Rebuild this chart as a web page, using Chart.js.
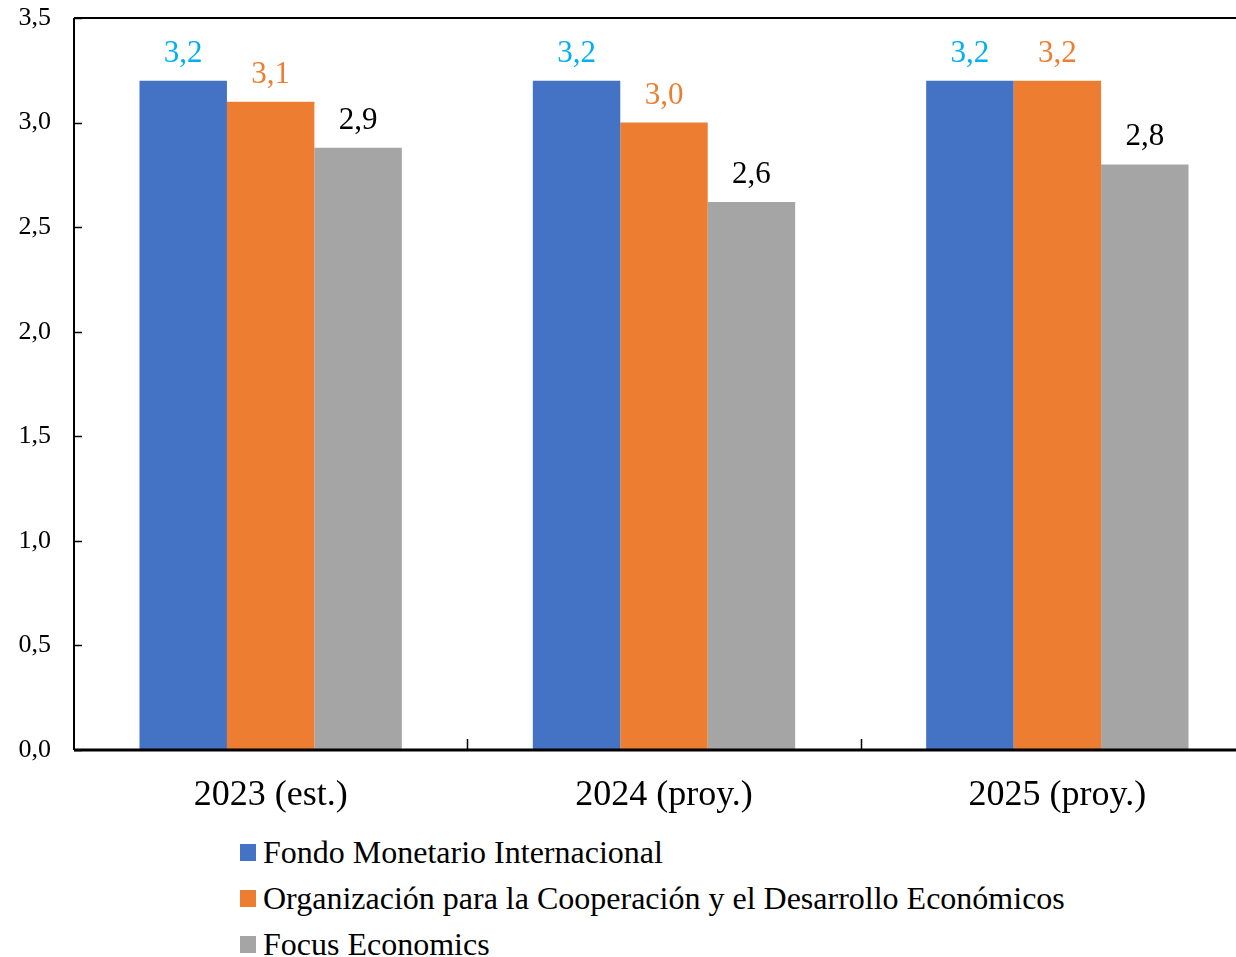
<!DOCTYPE html>
<html>
<head>
<meta charset="utf-8">
<script src="https://cdn.jsdelivr.net/npm/chart.js@4"></script>
<style>
  html, body { margin: 0; padding: 0; background: #fff; overflow: hidden; }
  #wrap { position: relative; width: 1236px; height: 957px; overflow: hidden; }
  #box { position: absolute; left: 0; top: 0; width: 1256px; height: 820px; }
  #legend { position: absolute; left: 240px; top: 829px; font-family: "Liberation Serif", "Times New Roman", serif; font-size: 32px; color: #000; }
  .item { height: 46px; line-height: 46px; display: flex; align-items: center; white-space: nowrap; }
  .swatch { width: 16px; height: 17px; margin-right: 7px; }
</style>
</head>
<body>
<div id="wrap">
  <div id="box"><canvas id="chart"></canvas></div>
  <div id="legend"></div>
</div>
<script>
  const categories = ["2023 (est.)", "2024 (proy.)", "2025 (proy.)"];
  const seriesNames = [
    "Fondo Monetario Internacional",
    "Organización para la Cooperación y el Desarrollo Económicos",
    "Focus Economics",
  ];
  const fmiValues = [3.2, 3.2, 3.2];
  const ocdeValues = [3.1, 3.0, 3.2];
  const focusValues = [2.88, 2.62, 2.8];
  const barColors = ["#4472C4", "#ED7D31", "#A5A5A5"];
  const labelColors = ["#00B0F0", "#ED7D31", "#000000"];

  const serif = "'Liberation Serif', 'Times New Roman', serif";

  function formatComma(value) {
    return Number(value).toFixed(1).replace(".", ",");
  }

  const valueLabels = {
    id: "valueLabels",
    afterDatasetsDraw(chart) {
      const ctx = chart.ctx;
      ctx.save();
      ctx.font = `31px ${serif}`;
      ctx.textAlign = "center";
      ctx.textBaseline = "alphabetic";
      chart.data.datasets.forEach((dataset, i) => {
        ctx.fillStyle = labelColors[i];
        chart.getDatasetMeta(i).data.forEach((bar, j) => {
          ctx.fillText(formatComma(dataset.data[j]), bar.x, bar.y - 19);
        });
      });
      ctx.restore();
    },
  };

  const frame = {
    id: "frame",
    afterDraw(chart) {
      const ctx = chart.ctx;
      const area = chart.chartArea;
      const x = chart.scales.x;
      const y = chart.scales.y;
      ctx.save();
      ctx.strokeStyle = "#000";
      // top border
      ctx.lineWidth = 2;
      ctx.beginPath();
      ctx.moveTo(area.left, area.top);
      ctx.lineTo(area.right, area.top);
      ctx.stroke();
      // left axis
      ctx.beginPath();
      ctx.moveTo(area.left, area.top);
      ctx.lineTo(area.left, area.bottom);
      ctx.stroke();
      // inward y ticks
      ctx.lineWidth = 1.5;
      y.ticks.forEach((tick) => {
        const py = Math.round(y.getPixelForValue(tick.value)) + 0.5;
        ctx.beginPath();
        ctx.moveTo(area.left, py);
        ctx.lineTo(area.left + 8, py);
        ctx.stroke();
      });
      // inward x ticks between categories
      for (let i = 0; i < categories.length - 1; i++) {
        const px = Math.round((x.getPixelForTick(i) + x.getPixelForTick(i + 1)) / 2) + 0.5;
        ctx.beginPath();
        ctx.moveTo(px, area.bottom);
        ctx.lineTo(px, area.bottom - 11);
        ctx.stroke();
      }
      // bottom axis
      ctx.lineWidth = 3;
      ctx.beginPath();
      ctx.moveTo(area.left, area.bottom);
      ctx.lineTo(area.right, area.bottom);
      ctx.stroke();
      ctx.restore();
    },
  };

  const chart = new Chart(document.getElementById("chart"), {
    type: "bar",
    data: {
      labels: categories,
      datasets: [fmiValues, ocdeValues, focusValues].map((values, i) => ({
        label: seriesNames[i],
        data: values,
        backgroundColor: barColors[i],
        borderWidth: 0,
        categoryPercentage: 0.667,
        barPercentage: 1,
      })),
    },
    options: {
      responsive: true,
      maintainAspectRatio: false,
      animation: false,
      layout: { padding: { top: 18, right: 2, left: 0, bottom: 0 } },
      plugins: {
        legend: { display: false },
        tooltip: { enabled: false },
      },
      scales: {
        x: {
          grid: { display: false, drawTicks: false },
          border: { display: false },
          ticks: { color: "#000", font: { family: serif, size: 36 }, padding: 24, maxRotation: 0 },
          afterFit(scale) { scale.height = 70; },
        },
        y: {
          min: 0,
          max: 3.5,
          grid: { display: false, drawTicks: false },
          border: { display: false },
          ticks: {
            stepSize: 0.5,
            color: "#000",
            font: { family: serif, size: 26 },
            padding: 23,
            callback: (value) => formatComma(value),
          },
          afterFit(scale) {
            scale.width = 74;
            scale.paddingTop = 0;
            scale.paddingBottom = 0;
          },
        },
      },
    },
    plugins: [valueLabels, frame],
  });

  const legend = document.getElementById("legend");
  legend.innerHTML = chart.data.datasets
    .map((d) => `<div class="item"><span class="swatch" style="background:${d.backgroundColor}"></span>${d.label}</div>`)
    .join("");
</script>
</body>
</html>
